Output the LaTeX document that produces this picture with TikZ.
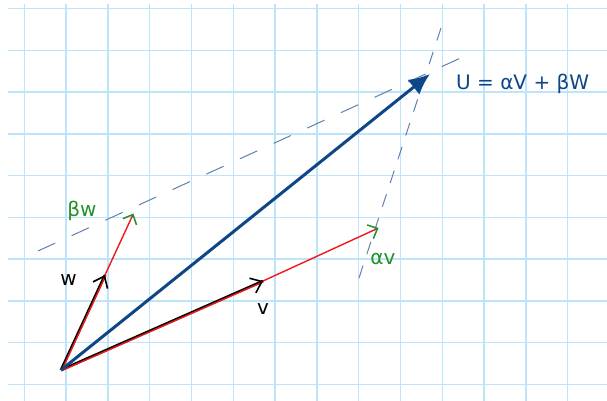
\documentclass[tikz,border=0pt]{standalone}
\usepackage{fontspec}
\setmainfont{DejaVu Sans}
\usetikzlibrary{arrows.meta,calc}
\definecolor{GridClr}{RGB}{188,228,250}
\definecolor{UClr}{RGB}{14,70,135}
\definecolor{DashClr}{RGB}{95,130,175}
\definecolor{LblGreen}{RGB}{35,145,40}
\definecolor{VecRed}{RGB}{240,25,25}

\begin{document}
\begin{tikzpicture}[x=1pt,y=-1pt,
  gridline/.style={GridClr,line width=1.4pt},
  guide/.style={DashClr,line width=1pt,dash pattern=on 19pt off 18pt},
  basevec/.style={black,line width=2.6pt},
  redvec/.style={VecRed,line width=1.4pt},
  blacktip/.style={-{Straight Barb[length=10pt,width=16pt,line width=1.6pt,color=black]}},
  greentip/.style={-{Straight Barb[length=8pt,width=15pt,line width=1.5pt,color=LblGreen]}},
  lbl/.style={font=\fontsize{20}{24}\selectfont,inner sep=0pt}]

\useasboundingbox (0,0) rectangle (607,401);
\fill[white] (0,0) rectangle (607,401);

% grid paper
\foreach \k in {0,...,13}
  \draw[gridline] (24.3+41.8*\k,4) -- (24.3+41.8*\k,401);
\foreach \k in {0,...,9}
  \draw[gridline] (8,8.5+41.78*\k) -- (607,8.5+41.78*\k);

\coordinate (O) at (61,370);
\coordinate (W) at (105,275);
\coordinate (BW) at (133.5,213.5);
\coordinate (V) at (263,281);
\coordinate (AV) at (378.5,228);
\coordinate (U) at (430,74);

% guide lines
\coordinate (g1a) at (38,251);
\coordinate (g1b) at (465,56);
\coordinate (g2a) at (359,278);
\coordinate (g2b) at (441,28);
\draw[guide] (g1a) -- (g1b);
\draw[guide,dash pattern=on 13pt off 12pt] (g2a) -- (g2b);

% scaled vectors
\draw[redvec,greentip] (W) -- (BW);
\draw[redvec,greentip] (V) -- (AV);

% v and w
\draw[basevec] (O) -- (W);
\draw[basevec] (O) -- (V);
\draw[redvec] ([shift={(0.8,0.3)}]O) -- ([shift={(0.8,0.3)}]W);
\draw[redvec] ([shift={(0.3,0.8)}]O) -- ([shift={(0.3,0.8)}]V);
\draw[line width=0.1pt,blacktip] ($(O)!0.97!(W)$) -- (W);
\draw[line width=0.1pt,blacktip] ($(O)!0.98!(V)$) -- (V);

% the sum
\draw[UClr,line width=3pt,-{Latex[length=21pt,width=19pt]}] (O) -- (U);

\node[lbl] (wlbl) at (68.5,280) {w};
\node[lbl] (vlbl) at (263,309) {v};
\node[lbl,LblGreen] (bwlbl) at (82,211) {βw};
\node[lbl,LblGreen] (avlbl) at (383,259) {αv};
\node[lbl,UClr,anchor=west] (ulbl) at (456,84) {U = αV + βW};
\end{tikzpicture}
\end{document}
